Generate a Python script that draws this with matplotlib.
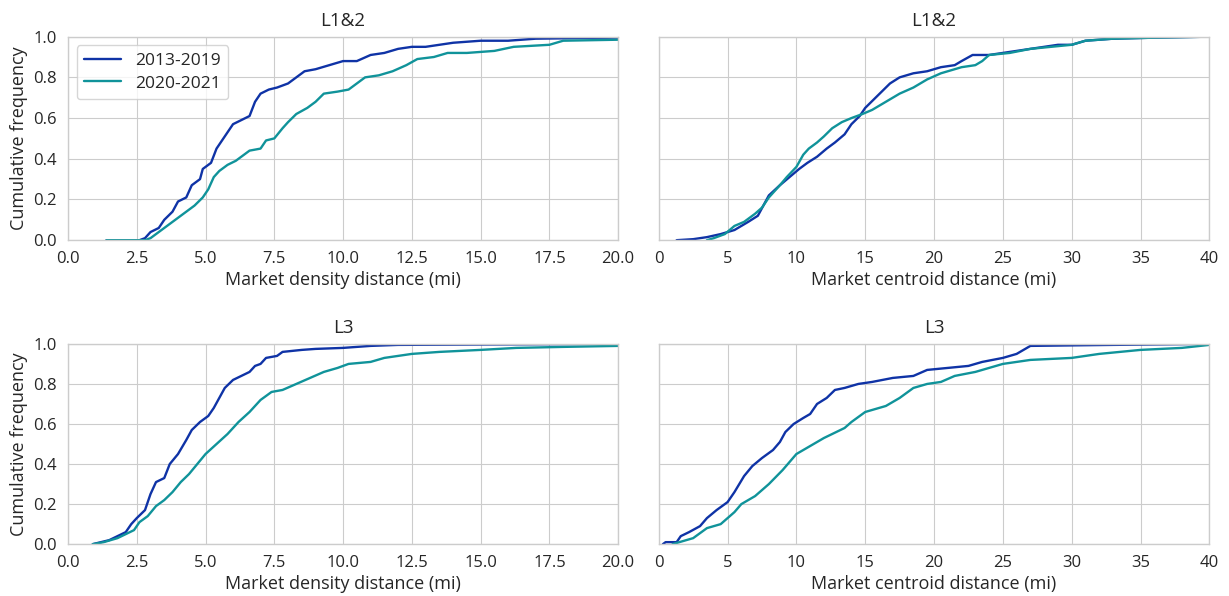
import matplotlib
matplotlib.use("Agg")
import matplotlib.pyplot as plt
import seaborn as sns

# empirical CDF breakpoints read off the reference (x in miles, y = cumulative frequency)
# top row: L1&2, market density distance
l12_dens_x_a = [1.4, 2.6, 2.8, 3.0, 3.3, 3.5, 3.8, 4.0, 4.3, 4.5, 4.8, 4.9, 5.2, 5.4, 5.6, 5.8, 6.0, 6.3, 6.6,
                6.8, 7.0, 7.3, 7.6, 8.0, 8.3, 8.6, 9.0, 9.5, 10.0, 10.5, 11.0, 11.5, 12.0, 12.5, 13.0, 13.5,
                14.0, 15.0, 16.0, 17.0, 20.0]
l12_dens_y_a = [0.0, 0.0, 0.01, 0.04, 0.06, 0.10, 0.14, 0.19, 0.21, 0.27, 0.30, 0.35, 0.38, 0.45, 0.49, 0.53,
                0.57, 0.59, 0.61, 0.68, 0.72, 0.74, 0.75, 0.77, 0.80, 0.83, 0.84, 0.86, 0.88, 0.88, 0.91, 0.92,
                0.94, 0.95, 0.95, 0.96, 0.97, 0.98, 0.98, 0.99, 0.995]
l12_dens_x_b = [1.4, 2.8, 3.0, 3.3, 3.6, 4.0, 4.3, 4.6, 4.9, 5.1, 5.3, 5.5, 5.8, 6.1, 6.4, 6.6, 7.0, 7.2, 7.5,
                7.8, 8.0, 8.3, 8.7, 9.0, 9.3, 9.8, 10.2, 10.5, 10.8, 11.3, 11.8, 12.3, 12.7, 13.3, 13.8, 14.5,
                15.5, 16.2, 17.5, 18.0, 20.0]
l12_dens_y_b = [0.0, 0.0, 0.01, 0.04, 0.07, 0.11, 0.14, 0.17, 0.21, 0.25, 0.31, 0.34, 0.37, 0.39, 0.42, 0.44,
                0.45, 0.49, 0.50, 0.55, 0.58, 0.62, 0.65, 0.68, 0.72, 0.73, 0.74, 0.77, 0.80, 0.81, 0.83, 0.86,
                0.89, 0.90, 0.92, 0.92, 0.93, 0.95, 0.96, 0.98, 0.985]

# top row: L1&2, market centroid distance
l12_cent_x_a = [1.3, 2.5, 3.5, 4.5, 5.5, 6.5, 7.2, 7.6, 8.0, 8.8, 9.5, 10.2, 10.8, 11.5, 12.2, 12.8, 13.5,
                14.0, 14.6, 15.0, 15.6, 16.2, 16.8, 17.5, 18.5, 19.5, 20.5, 21.5, 22.0, 22.8, 24.0, 25.0, 26.0,
                27.0, 28.0, 29.0, 30.0, 31.0, 33.0, 36.0, 40.0]
l12_cent_y_a = [0.0, 0.005, 0.015, 0.03, 0.05, 0.09, 0.12, 0.17, 0.22, 0.27, 0.31, 0.35, 0.38, 0.41, 0.45,
                0.48, 0.52, 0.57, 0.61, 0.65, 0.69, 0.73, 0.77, 0.80, 0.82, 0.83, 0.85, 0.86, 0.88, 0.91, 0.91,
                0.92, 0.93, 0.94, 0.95, 0.96, 0.96, 0.98, 0.99, 0.995, 1.0]
l12_cent_x_b = [3.5, 4.0, 4.8, 5.5, 6.2, 7.0, 7.5, 8.0, 8.8, 9.3, 10.0, 10.5, 10.9, 11.5, 12.0, 12.6, 13.3,
                14.0, 14.8, 15.5, 16.5, 17.5, 18.5, 19.5, 20.5, 22.0, 23.0, 23.5, 24.0, 25.5, 27.0, 28.5, 30.0,
                31.0, 33.0, 36.0, 40.0]
l12_cent_y_b = [0.0, 0.01, 0.03, 0.07, 0.09, 0.13, 0.16, 0.21, 0.27, 0.31, 0.36, 0.42, 0.45, 0.48, 0.51,
                0.55, 0.58, 0.60, 0.62, 0.64, 0.68, 0.72, 0.75, 0.79, 0.82, 0.85, 0.86, 0.88, 0.91, 0.92, 0.94,
                0.95, 0.96, 0.98, 0.99, 0.995, 1.0]

# bottom row: L3, market density distance
l3_dens_x_a = [0.9, 1.2, 1.5, 1.8, 2.1, 2.3, 2.5, 2.8, 3.0, 3.2, 3.5, 3.7, 4.0, 4.3, 4.5, 4.8, 5.1, 5.3, 5.5,
               5.7, 6.0, 6.3, 6.6, 6.8, 7.0, 7.2, 7.6, 7.8, 8.5, 9.0, 10.0, 11.0, 12.0, 20.0]
l3_dens_y_a = [0.0, 0.01, 0.02, 0.04, 0.06, 0.10, 0.13, 0.17, 0.25, 0.31, 0.33, 0.40, 0.45, 0.52, 0.57, 0.61,
               0.64, 0.68, 0.73, 0.78, 0.82, 0.84, 0.86, 0.89, 0.90, 0.93, 0.94, 0.96, 0.97, 0.975, 0.98, 0.99,
               0.995, 1.0]
l3_dens_x_b = [0.9, 1.3, 1.8, 2.1, 2.4, 2.6, 2.9, 3.2, 3.5, 3.8, 4.1, 4.4, 4.7, 5.0, 5.4, 5.8, 6.2, 6.6, 7.0,
               7.4, 7.8, 8.3, 8.8, 9.3, 9.8, 10.2, 11.0, 11.5, 12.5, 13.5, 15.0, 16.3, 18.0, 20.0]
l3_dens_y_b = [0.0, 0.01, 0.03, 0.05, 0.07, 0.11, 0.14, 0.19, 0.22, 0.26, 0.31, 0.35, 0.40, 0.45, 0.50, 0.55,
               0.61, 0.66, 0.72, 0.76, 0.77, 0.80, 0.83, 0.86, 0.88, 0.90, 0.91, 0.93, 0.95, 0.96, 0.97, 0.98,
               0.985, 0.99]

# bottom row: L3, market centroid distance
l3_cent_x_a = [0.3, 0.5, 1.3, 1.6, 2.2, 3.0, 3.5, 4.2, 5.0, 5.5, 6.2, 6.8, 7.5, 8.3, 8.8, 9.2, 9.8, 10.5,
               11.0, 11.5, 12.2, 12.8, 13.5, 14.5, 15.5, 17.0, 18.5, 19.5, 21.0, 22.5, 23.5, 25.0, 26.0, 27.0,
               33.0, 40.0]
l3_cent_y_a = [0.0, 0.01, 0.01, 0.04, 0.06, 0.09, 0.13, 0.17, 0.21, 0.26, 0.34, 0.39, 0.43, 0.47, 0.51, 0.56,
               0.60, 0.63, 0.65, 0.70, 0.73, 0.77, 0.78, 0.80, 0.81, 0.83, 0.84, 0.87, 0.88, 0.89, 0.91, 0.93,
               0.95, 0.99, 0.995, 1.0]
l3_cent_x_b = [1.0, 1.5, 2.5, 3.5, 4.5, 5.5, 6.0, 7.0, 8.0, 9.0, 10.0, 11.0, 12.0, 13.5, 14.0, 15.0, 16.5,
               17.5, 18.5, 19.5, 20.5, 21.5, 23.0, 24.0, 25.0, 27.0, 30.0, 32.0, 35.0, 38.0, 40.0]
l3_cent_y_b = [0.0, 0.01, 0.03, 0.08, 0.10, 0.16, 0.20, 0.24, 0.30, 0.37, 0.45, 0.49, 0.53, 0.58, 0.61, 0.66,
               0.69, 0.73, 0.78, 0.80, 0.81, 0.84, 0.86, 0.88, 0.90, 0.92, 0.93, 0.95, 0.97, 0.98, 0.995]

series_labels = ["2013-2019", "2020-2021"]
panel_titles = ["L1&2", "L1&2", "L3", "L3"]
x_labels = ["Market density distance (mi)", "Market centroid distance (mi)",
            "Market density distance (mi)", "Market centroid distance (mi)"]
y_label = "Cumulative frequency"

panels = [
    (l12_dens_x_a, l12_dens_y_a, l12_dens_x_b, l12_dens_y_b),
    (l12_cent_x_a, l12_cent_y_a, l12_cent_x_b, l12_cent_y_b),
    (l3_dens_x_a, l3_dens_y_a, l3_dens_x_b, l3_dens_y_b),
    (l3_cent_x_a, l3_cent_y_a, l3_cent_x_b, l3_cent_y_b),
]

sns.set_style("whitegrid")
plt.rcParams['font.family'] = ['Open Sans', 'DejaVu Sans']
plt.rcParams['axes.edgecolor'] = '#cccccc'
plt.rcParams['grid.color'] = '#cccccc'
plt.rcParams['text.color'] = '#262626'
plt.rcParams['xtick.color'] = '#262626'
plt.rcParams['ytick.color'] = '#262626'
plt.rcParams['axes.labelcolor'] = '#262626'

colors = ["#0f33a6", "#10939a"]

fig = plt.figure(figsize=(12.29, 5.96), dpi=100)
boxes = [
    [0.0553, 0.597, 0.4477, 0.3415],
    [0.536, 0.597, 0.448, 0.3415],
    [0.0553, 0.087, 0.4477, 0.336],
    [0.536, 0.087, 0.448, 0.336],
]

for i, (xa, ya, xb, yb) in enumerate(panels):
    ax = fig.add_axes(boxes[i])
    ax.plot(xa, ya, color=colors[0], lw=1.7, label=series_labels[0])
    ax.plot(xb, yb, color=colors[1], lw=1.7, label=series_labels[1])
    ax.set_ylim(0, 1.0)
    ax.set_yticks([0, 0.2, 0.4, 0.6, 0.8, 1.0])
    if i % 2 == 0:
        ax.set_xlim(0, 20)
        ax.set_xticks([0, 2.5, 5, 7.5, 10, 12.5, 15, 17.5, 20])
        ax.set_xticklabels(["0.0", "2.5", "5.0", "7.5", "10.0", "12.5", "15.0", "17.5", "20.0"])
        ax.set_yticklabels(["0.0", "0.2", "0.4", "0.6", "0.8", "1.0"])
        ax.set_ylabel(y_label, fontsize=13, labelpad=4)
    else:
        ax.set_xlim(0, 40)
        ax.set_xticks(range(0, 41, 5))
        ax.set_yticklabels([])
    ax.tick_params(labelsize=12, length=0)
    ax.tick_params(axis='x', pad=8)
    ax.tick_params(axis='y', pad=8)
    ax.set_xlabel(x_labels[i], fontsize=13, labelpad=3)
    ax.set_title(panel_titles[i], fontsize=13.5, pad=8)
    for s in ax.spines.values():
        s.set_linewidth(1.0)
    if i == 0:
        ax.legend(loc="upper left", fontsize=12.5, frameon=True, handlelength=2.1,
                  handletextpad=0.8, borderpad=0.45, labelspacing=0.35)

fig.savefig("out.png", dpi=100)
